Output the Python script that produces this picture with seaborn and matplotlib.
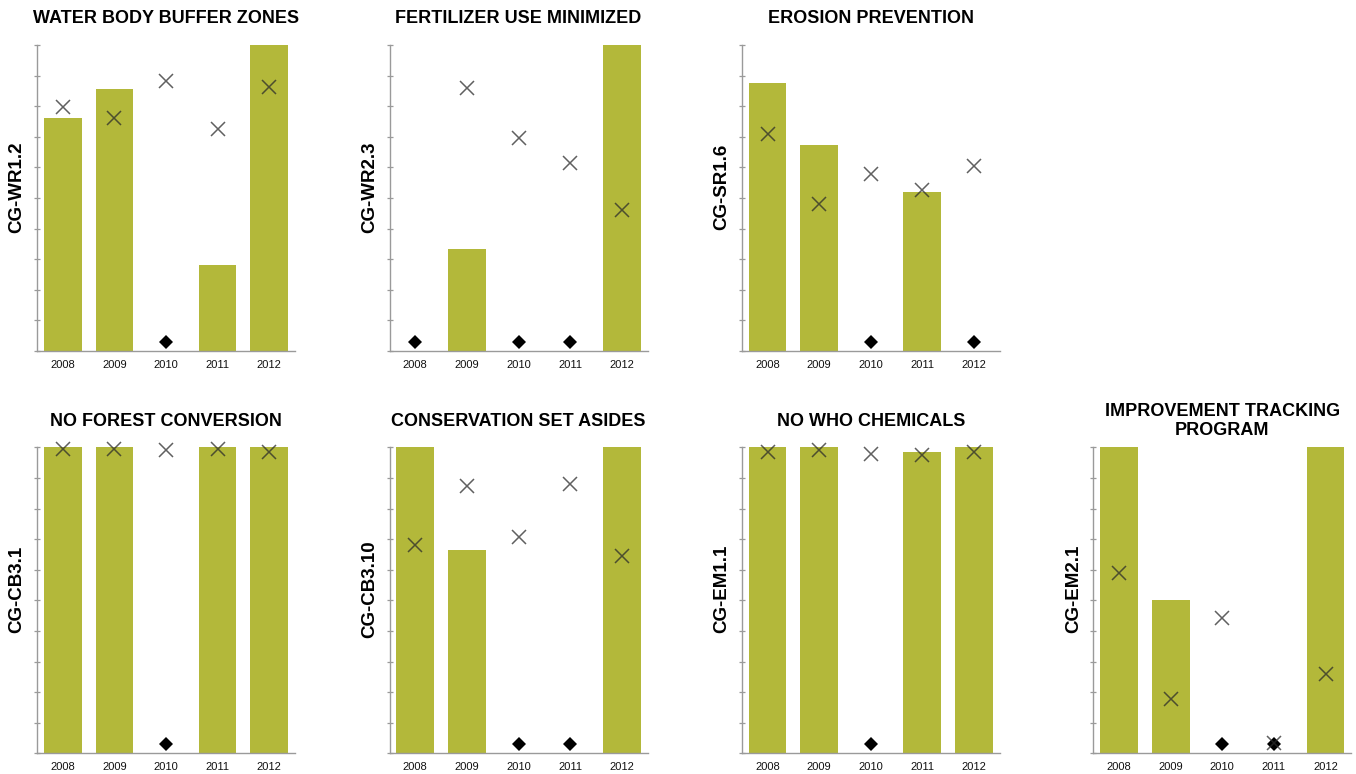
import numpy as np
import pandas as pd
import matplotlib
matplotlib.use("Agg")
import matplotlib.pyplot as plt
import seaborn as sns

# ---------------- data ----------------
years = ["2008", "2009", "2010", "2011", "2012"]

titles = [
    "WATER BODY BUFFER ZONES",
    "FERTILIZER USE MINIMIZED",
    "EROSION PREVENTION",
    "NO FOREST CONVERSION",
    "CONSERVATION SET ASIDES",
    "NO WHO CHEMICALS",
    "IMPROVEMENT TRACKING\nPROGRAM",
]
codes = ["CG-WR1.2", "CG-WR2.3", "CG-SR1.6", "CG-CB3.1", "CG-CB3.10", "CG-EM1.1", "CG-EM2.1"]

# bar values (0 = no value, shown with a diamond)
wr12_bars = [76.0, 85.5, 0, 28.0, 100]
wr23_bars = [0, 33.2, 0, 0, 100]
sr16_bars = [87.5, 67.4, 0, 52.0, 0]
cb31_bars = [100, 100, 0, 100, 100]
cb310_bars = [100, 66.5, 0, 0, 100]
em11_bars = [100, 100, 0, 98.6, 100]
em21_bars = [100, 50.1, 0, 0, 100]

# cross-marker values
wr12_marks = [79.6, 76.1, 88.3, 72.4, 86.2]
wr23_marks = [np.nan, 85.8, 69.7, 61.6, 46.0]
sr16_marks = [70.8, 48.0, 57.9, 52.6, 60.4]
cb31_marks = [99.6, 99.6, 99.2, 99.6, 98.4]
cb310_marks = [68.1, 87.5, 70.6, 88.0, 64.5]
em11_marks = [98.4, 99.1, 97.8, 97.5, 98.6]
em21_marks = [59.0, 17.7, 44.1, 3.5, 25.9]

missing_level = 3  # where the diamond for a missing bar sits

bars_all = [wr12_bars, wr23_bars, sr16_bars, cb31_bars, cb310_bars, em11_bars, em21_bars]
marks_all = [wr12_marks, wr23_marks, sr16_marks, cb31_marks, cb310_marks, em11_marks, em21_marks]
grid_pos = [(0, 0), (0, 1), (0, 2), (1, 0), (1, 1), (1, 2), (1, 3)]

# ---------------- style ----------------
GREEN = "#b3b83a"
GRAY = "#9a9a9a"
sns.set_style("white")
plt.rcParams["font.family"] = ["Liberation Sans", "DejaVu Sans"]

W, H = 1356, 774
fig = plt.figure(figsize=(W / 100, H / 100), dpi=100)

col_left = [37, 389.5, 741.7, 1093.3]
row_top = [45, 447.3]
ax_w, ax_h = 258, 306

for i, (r, c) in enumerate(grid_pos):
    ax = fig.add_axes([col_left[c] / W, 1 - (row_top[r] + ax_h) / H, ax_w / W, ax_h / H])
    df = pd.DataFrame({"year": years, "value": bars_all[i], "mark": marks_all[i]})
    df["missing"] = np.where(df["value"] == 0, missing_level, np.nan)

    sns.barplot(data=df, x="year", y="value", order=years, color=GREEN,
                saturation=1, width=0.73, errorbar=None, ax=ax, linewidth=0)
    sns.pointplot(data=df, x="year", y="missing", order=years, color="black",
                  markers="D", linestyles="none", errorbar=None, ax=ax,
                  markersize=7, markeredgewidth=0)
    sns.pointplot(data=df, x="year", y="mark", order=years, color="#2b2b2b",
                  markers="x", linestyles="none", errorbar=None, ax=ax,
                  markersize=10, markeredgewidth=1.1, alpha=0.75)
    for ln in ax.lines:
        ln.set_clip_on(False)

    ax.set_xlim(-0.5, len(years) - 0.5)
    ax.set_ylim(0, 100)
    ax.set_yticks(np.arange(0, 101, 10))
    ax.set_yticklabels([])
    ax.set_xticks(range(len(years)))
    ax.set_xticklabels(years, fontsize=8, color="#111111")
    ax.set_xticks(np.arange(-0.5, len(years), 1), minor=True)
    ax.tick_params(axis="x", which="major", length=0, pad=6.5)
    ax.tick_params(axis="x", which="minor", direction="inout", length=6, width=0.9, color=GRAY)
    ax.tick_params(axis="y", which="major", direction="inout", length=5, width=0.9, color=GRAY, left=True)
    ax.set_xlabel("")
    ax.set_ylabel(codes[i], fontsize=13.5, fontweight="bold", color="black")
    ax.yaxis.set_label_coords(-0.044, 0.536)
    sns.despine(ax=ax)
    for s in ("left", "bottom"):
        ax.spines[s].set_color(GRAY)
        ax.spines[s].set_linewidth(1.0)
    ax.text(0.5, 1 + 26.3 / ax_h, titles[i], transform=ax.transAxes, ha="center",
            va="center", fontsize=13, fontweight="bold", color="black",
            multialignment="center", linespacing=1.2)

fig.savefig("out.png", dpi=100)
